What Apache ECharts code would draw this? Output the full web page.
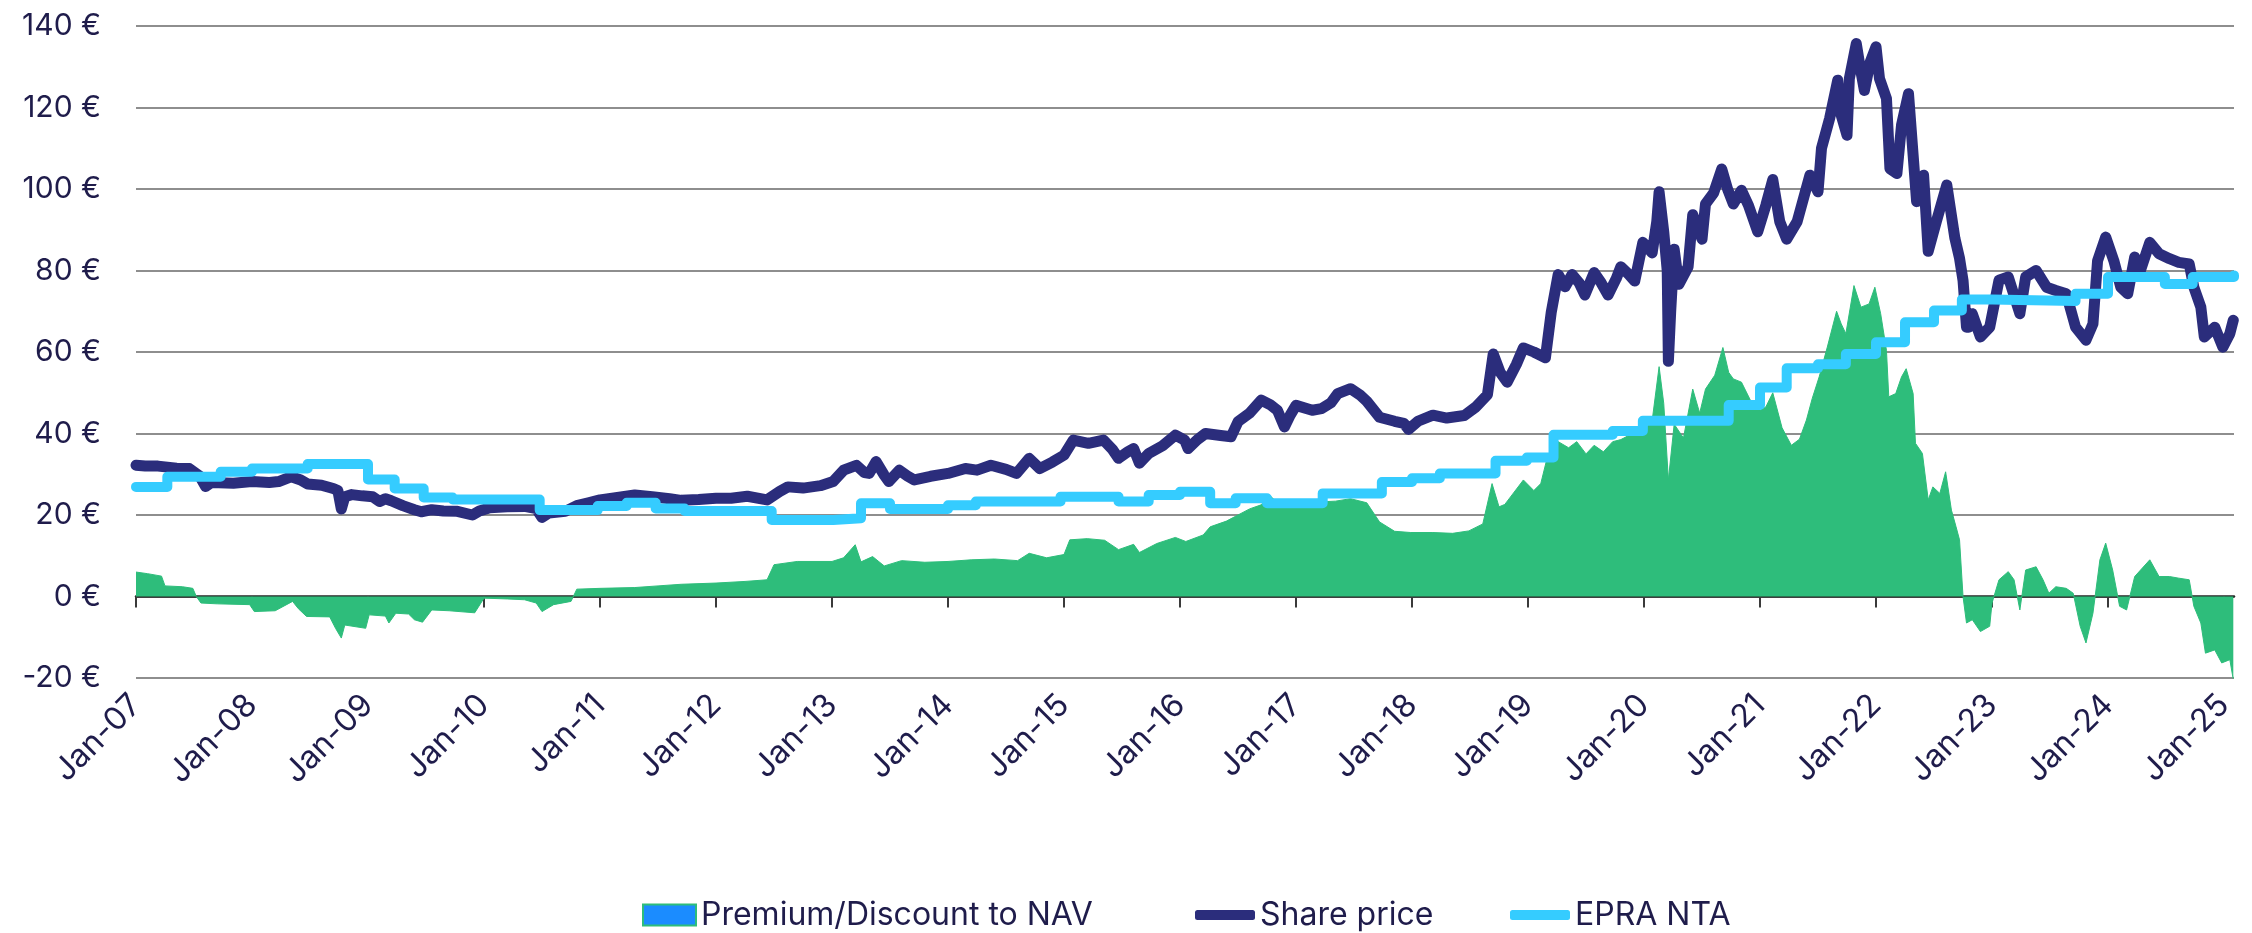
<!DOCTYPE html>
<html>
<head>
<meta charset="utf-8">
<title>Share price, EPRA NTA and premium/discount</title>
<script src="https://cdn.jsdelivr.net/npm/echarts@6/dist/echarts.min.js"></script>
<style>
  html, body { margin: 0; padding: 0; background: #ffffff; }
  #chart { width: 2252px; height: 933px; }
</style>
</head>
<body>
<div id="chart"></div>
<script>
// x positions are decimal years (2007.5 = mid-2007)
const yearTicks = [2007, 2008, 2009, 2010, 2011, 2012, 2013, 2014, 2015, 2016,
                   2017, 2018, 2019, 2020, 2021, 2022, 2023, 2024, 2025];
const yearLabels = ['Jan-07', 'Jan-08', 'Jan-09', 'Jan-10', 'Jan-11', 'Jan-12', 'Jan-13',
                    'Jan-14', 'Jan-15', 'Jan-16', 'Jan-17', 'Jan-18', 'Jan-19', 'Jan-20',
                    'Jan-21', 'Jan-22', 'Jan-23', 'Jan-24', 'Jan-25'];

// Share price (EUR)
const sharePrice = [
  [2007.00, 32.2], [2007.08, 32.0], [2007.19, 32.0], [2007.35, 31.5], [2007.46, 31.4],
  [2007.55, 29.5], [2007.60, 27.0], [2007.65, 28.0], [2007.84, 27.8], [2008.00, 28.2],
  [2008.15, 28.0], [2008.23, 28.2], [2008.34, 29.4], [2008.42, 28.6], [2008.48, 27.6],
  [2008.60, 27.3], [2008.70, 26.5], [2008.74, 26.0], [2008.77, 21.5], [2008.80, 24.5],
  [2008.86, 25.0], [2008.95, 24.7], [2009.04, 24.5], [2009.10, 23.3], [2009.15, 24.0],
  [2009.20, 23.5], [2009.30, 22.3], [2009.40, 21.3], [2009.46, 20.8], [2009.55, 21.3],
  [2009.65, 21.0], [2009.77, 20.9], [2009.90, 20.0], [2009.96, 21.0], [2010.05, 21.8],
  [2010.20, 22.0], [2010.35, 22.1], [2010.45, 21.6], [2010.50, 19.4], [2010.56, 20.5],
  [2010.70, 20.9], [2010.80, 22.3], [2010.90, 23.0], [2011.00, 23.7], [2011.15, 24.3],
  [2011.30, 24.9], [2011.45, 24.5], [2011.60, 24.0], [2011.70, 23.6], [2011.85, 23.8],
  [2012.00, 24.1], [2012.13, 24.1], [2012.27, 24.6], [2012.44, 23.7], [2012.55, 25.8],
  [2012.62, 26.9], [2012.75, 26.6], [2012.90, 27.2], [2013.01, 28.2], [2013.10, 31.0],
  [2013.21, 32.2], [2013.28, 30.4], [2013.32, 30.2], [2013.38, 33.1], [2013.45, 29.8],
  [2013.49, 28.2], [2013.58, 31.0], [2013.65, 29.6], [2013.71, 28.6], [2013.85, 29.5],
  [2014.00, 30.2], [2014.15, 31.4], [2014.25, 31.0], [2014.37, 32.2], [2014.50, 31.2],
  [2014.59, 30.2], [2014.70, 33.9], [2014.79, 31.4], [2014.90, 33.0], [2015.00, 34.7],
  [2015.08, 38.4], [2015.21, 37.6], [2015.34, 38.4], [2015.42, 36.0], [2015.47, 33.9],
  [2015.55, 35.5], [2015.60, 36.3], [2015.65, 32.7], [2015.73, 35.1], [2015.85, 37.0],
  [2015.96, 39.6], [2016.04, 38.4], [2016.07, 36.3], [2016.15, 38.5], [2016.22, 40.0],
  [2016.35, 39.5], [2016.44, 39.2], [2016.50, 42.9], [2016.60, 45.0], [2016.70, 48.2],
  [2016.78, 47.0], [2016.84, 45.7], [2016.90, 41.6], [2016.95, 44.5], [2017.00, 46.9],
  [2017.14, 45.7], [2017.22, 46.1], [2017.30, 47.5], [2017.36, 49.8], [2017.47, 51.0],
  [2017.55, 49.5], [2017.61, 47.9], [2017.72, 44.0], [2017.85, 43.0], [2017.93, 42.5],
  [2017.97, 41.0], [2018.05, 43.0], [2018.18, 44.5], [2018.30, 43.8], [2018.45, 44.4],
  [2018.55, 46.5], [2018.65, 49.5], [2018.70, 59.5], [2018.76, 55.0], [2018.82, 52.6],
  [2018.90, 57.0], [2018.96, 61.0], [2019.05, 60.0], [2019.15, 58.6], [2019.20, 69.7],
  [2019.26, 79.0], [2019.32, 76.0], [2019.38, 79.0], [2019.44, 77.0], [2019.49, 74.0],
  [2019.57, 79.5], [2019.63, 77.0], [2019.69, 74.0], [2019.76, 78.0], [2019.80, 80.9],
  [2019.87, 79.0], [2019.92, 77.4], [2019.99, 86.9], [2020.07, 84.3], [2020.11, 92.0],
  [2020.13, 99.3], [2020.17, 89.5], [2020.20, 80.0], [2020.21, 57.7], [2020.23, 70.0],
  [2020.26, 85.2], [2020.30, 76.6], [2020.38, 80.9], [2020.42, 93.7], [2020.50, 87.7],
  [2020.53, 96.3], [2020.60, 99.0], [2020.67, 104.9], [2020.72, 100.0], [2020.77, 96.3],
  [2020.84, 99.7], [2020.90, 96.0], [2020.98, 89.5], [2021.05, 96.0], [2021.11, 102.3],
  [2021.17, 92.0], [2021.23, 87.7], [2021.32, 92.0], [2021.43, 103.4], [2021.50, 99.3],
  [2021.53, 110.0], [2021.60, 117.3], [2021.67, 126.7], [2021.70, 118.1], [2021.75, 113.2],
  [2021.77, 127.1], [2021.83, 135.7], [2021.86, 130.4], [2021.90, 124.2], [2021.95, 131.2],
  [2022.00, 134.9], [2022.03, 127.1], [2022.09, 122.2], [2022.12, 105.0], [2022.18, 103.8],
  [2022.22, 115.7], [2022.28, 123.4], [2022.35, 96.9], [2022.41, 103.4], [2022.45, 84.7],
  [2022.52, 92.0], [2022.61, 101.0], [2022.68, 87.9], [2022.72, 83.0], [2022.75, 77.6],
  [2022.78, 66.1], [2022.80, 66.1], [2022.83, 69.4], [2022.90, 63.7], [2022.98, 66.1],
  [2023.06, 77.6], [2023.14, 78.4], [2023.24, 69.4], [2023.29, 78.4], [2023.38, 80.0],
  [2023.47, 75.9], [2023.55, 75.1], [2023.64, 74.3], [2023.72, 66.1], [2023.81, 62.9],
  [2023.87, 66.9], [2023.91, 82.4], [2023.98, 88.2], [2024.05, 82.4], [2024.11, 75.9],
  [2024.17, 74.3], [2024.23, 83.3], [2024.27, 79.2], [2024.36, 86.9], [2024.44, 84.1],
  [2024.53, 82.9], [2024.61, 82.0], [2024.70, 81.6], [2024.74, 75.9], [2024.80, 71.0],
  [2024.83, 63.7], [2024.92, 66.1], [2024.99, 61.2], [2025.05, 64.5], [2025.08, 67.8]
];

// EPRA NTA per share (EUR): each entry holds until the next one
const epraNta = [
  [2007.00, 26.9], [2007.27, 29.4], [2007.73, 30.6], [2008.00, 31.4], [2008.48, 32.5],
  [2009.00, 28.7], [2009.23, 26.5], [2009.48, 24.3], [2009.73, 23.8], [2010.48, 21.2],
  [2010.98, 22.2], [2011.23, 23.0], [2011.48, 21.6], [2011.73, 21.0], [2012.48, 18.8],
  [2013.01, 19.2], [2013.25, 22.9], [2013.50, 21.5], [2014.00, 22.4], [2014.24, 23.3],
  [2014.97, 24.5], [2015.47, 23.3], [2015.73, 24.9], [2016.00, 25.7], [2016.26, 22.9],
  [2016.48, 24.1], [2016.75, 22.9], [2017.23, 25.3], [2017.74, 28.1], [2018.00, 29.0],
  [2018.24, 30.2], [2018.72, 33.3], [2018.99, 34.1], [2019.22, 39.7], [2019.73, 40.6],
  [2019.99, 43.1], [2020.73, 47.0], [2021.00, 51.3], [2021.23, 56.0], [2021.50, 57.0],
  [2021.74, 59.5], [2022.00, 62.4], [2022.25, 67.3], [2022.50, 70.2], [2022.74, 72.9],
  [2023.00, 72.5], [2023.72, 74.3], [2024.00, 78.4], [2024.49, 76.7], [2024.73, 78.4],
  [2025.086, 78.8]
];

// Premium (+) / discount (-) of the share price to NAV (EUR)
const premium = [
  [2007.00, 6.0], [2007.10, 5.6], [2007.22, 5.0], [2007.25, 2.6], [2007.40, 2.4],
  [2007.49, 2.0], [2007.52, 0.0], [2007.56, -1.6], [2007.70, -1.8], [2007.98, -2.0],
  [2008.02, -3.7], [2008.20, -3.5], [2008.35, -1.2], [2008.40, -3.0], [2008.47, -4.9],
  [2008.67, -5.0], [2008.72, -7.8], [2008.77, -10.2], [2008.80, -7.0], [2008.98, -7.8],
  [2009.01, -4.5], [2009.15, -4.8], [2009.18, -6.5], [2009.24, -4.1], [2009.35, -4.3],
  [2009.40, -5.7], [2009.47, -6.3], [2009.55, -3.3], [2009.70, -3.5], [2009.92, -4.0],
  [2010.00, -0.4], [2010.20, -0.6], [2010.35, -0.8], [2010.45, -1.6], [2010.50, -3.7],
  [2010.60, -2.0], [2010.75, -1.2], [2010.80, 1.8], [2011.00, 2.0], [2011.30, 2.2],
  [2011.50, 2.6], [2011.70, 3.0], [2012.00, 3.3], [2012.25, 3.7], [2012.44, 4.1],
  [2012.50, 7.8], [2012.70, 8.6], [2013.00, 8.6], [2013.10, 9.5], [2013.20, 12.7],
  [2013.25, 8.5], [2013.35, 9.8], [2013.45, 7.5], [2013.60, 8.8], [2013.80, 8.4],
  [2014.00, 8.6], [2014.20, 9.0], [2014.40, 9.2], [2014.60, 8.8], [2014.70, 10.6],
  [2014.85, 9.5], [2015.00, 10.3], [2015.05, 13.9], [2015.20, 14.2], [2015.35, 13.8],
  [2015.47, 11.5], [2015.60, 12.8], [2015.65, 10.8], [2015.80, 13.0], [2015.96, 14.5],
  [2016.05, 13.5], [2016.20, 15.1], [2016.26, 17.1], [2016.40, 18.5], [2016.50, 20.0],
  [2016.60, 21.5], [2016.70, 22.5], [2016.77, 24.9], [2016.84, 23.0], [2016.95, 22.0],
  [2017.03, 22.6], [2017.20, 23.2], [2017.34, 23.4], [2017.47, 24.0], [2017.61, 23.0],
  [2017.72, 18.3], [2017.85, 16.0], [2017.99, 15.7], [2018.18, 15.7], [2018.35, 15.5],
  [2018.49, 16.1], [2018.61, 17.8], [2018.69, 27.7], [2018.75, 22.0], [2018.80, 22.6],
  [2018.96, 28.6], [2019.05, 26.0], [2019.11, 27.7], [2019.17, 34.6], [2019.26, 38.0],
  [2019.35, 36.5], [2019.42, 38.0], [2019.50, 35.0], [2019.57, 37.1], [2019.65, 35.5],
  [2019.73, 38.0], [2019.80, 38.5], [2019.88, 39.7], [2019.99, 40.6], [2020.07, 43.1],
  [2020.13, 56.4], [2020.17, 47.4], [2020.21, 28.6], [2020.26, 42.3], [2020.34, 38.9],
  [2020.42, 50.9], [2020.48, 45.0], [2020.53, 50.9], [2020.61, 54.3], [2020.68, 61.1],
  [2020.73, 55.0], [2020.77, 53.4], [2020.84, 52.6], [2020.92, 48.0], [2021.00, 45.7],
  [2021.05, 46.5], [2021.11, 50.0], [2021.19, 41.4], [2021.27, 37.1], [2021.34, 38.6],
  [2021.40, 43.3], [2021.45, 48.6], [2021.51, 53.9], [2021.58, 61.2], [2021.66, 70.0],
  [2021.70, 66.9], [2021.74, 64.5], [2021.81, 76.3], [2021.87, 71.0], [2021.94, 71.8],
  [2021.99, 75.9], [2022.04, 69.4], [2022.09, 60.4], [2022.11, 49.0], [2022.17, 49.8],
  [2022.22, 53.9], [2022.26, 55.9], [2022.32, 49.8], [2022.34, 37.6], [2022.40, 35.1],
  [2022.45, 23.7], [2022.49, 26.9], [2022.55, 25.3], [2022.60, 30.6], [2022.65, 21.2],
  [2022.69, 17.1], [2022.72, 13.9], [2022.75, 0.0], [2022.78, -6.5], [2022.83, -5.7],
  [2022.90, -8.6], [2022.98, -7.3], [2023.00, -1.6], [2023.06, 4.1], [2023.14, 6.1],
  [2023.19, 4.1], [2023.24, -3.3], [2023.29, 6.5], [2023.38, 7.3], [2023.44, 4.1],
  [2023.49, 0.8], [2023.55, 2.4], [2023.64, 2.0], [2023.70, 0.8], [2023.76, -7.3],
  [2023.81, -11.4], [2023.87, -4.1], [2023.93, 9.0], [2023.98, 13.1], [2024.04, 6.5],
  [2024.10, -2.4], [2024.16, -3.3], [2024.23, 4.9], [2024.36, 9.0], [2024.44, 4.9],
  [2024.53, 4.9], [2024.61, 4.5], [2024.70, 4.1], [2024.74, -2.4], [2024.80, -6.5],
  [2024.84, -13.9], [2024.92, -13.1], [2024.98, -16.3], [2025.05, -15.5], [2025.08, -20.4]
];

const TEXT = '#1f1c4b';
const FONT = 'Inter';

const chart = echarts.init(document.getElementById('chart'), null, { renderer: 'canvas' });

const legendText = { color: TEXT, fontFamily: FONT, fontSize: 32 };

chart.setOption({
  animation: false,
  backgroundColor: '#ffffff',
  grid: { left: 136, right: 18, top: 26, bottom: 255, containLabel: false },
  legend: [
    {
      data: ['Premium/Discount to NAV'], left: 637, top: 894,
      icon: 'rect', itemWidth: 53, itemHeight: 21, itemGap: 0,
      itemStyle: { color: '#1b8cff', borderColor: '#2ebd7b', borderWidth: 2 },
      textStyle: legendText, selectedMode: false
    },
    {
      data: ['Share price'], left: 1190, top: 894,
      icon: 'roundRect', itemWidth: 60, itemHeight: 10,
      textStyle: legendText, selectedMode: false
    },
    {
      data: ['EPRA NTA'], left: 1505, top: 894,
      icon: 'roundRect', itemWidth: 60, itemHeight: 10,
      textStyle: legendText, selectedMode: false
    }
  ],
  xAxis: [
    {
      // zero line with the yearly ticks
      type: 'value', min: 2007, max: 2025.086,
      axisLine: { onZero: true, lineStyle: { color: '#262626', width: 2.5 } },
      axisTick: { show: true, length: 11, lineStyle: { color: '#3a3a3a', width: 2 }, customValues: yearTicks },
      axisLabel: { show: false },
      splitLine: { show: false }
    },
    {
      // year labels along the bottom
      type: 'value', min: 2007, max: 2025.086, position: 'bottom',
      axisLine: { show: false, onZero: false },
      axisTick: { show: false },
      splitLine: { show: false },
      axisLabel: {
        show: true, rotate: 45, margin: 22,
        color: TEXT, fontFamily: FONT, fontSize: 32,
        customValues: yearTicks,
        formatter: v => {
          const i = yearTicks.indexOf(Math.round(v));
          return i >= 0 ? yearLabels[i] : '';
        }
      }
    }
  ],
  yAxis: {
    type: 'value', min: -20, max: 140, interval: 20,
    axisLine: { show: false }, axisTick: { show: false },
    splitLine: { show: true, lineStyle: { color: '#8e8e8e', width: 2 } },
    axisLabel: {
      color: TEXT, fontFamily: FONT, fontSize: 30, margin: 35,
      formatter: v => v + ' €'
    }
  },
  series: [
    {
      name: 'Premium/Discount to NAV', type: 'line', xAxisIndex: 0,
      data: premium, showSymbol: false, symbol: 'none',
      lineStyle: { width: 1, color: '#2ebd7b' },
      itemStyle: { color: '#2ebd7b' },
      areaStyle: { color: '#2ebd7b', opacity: 1, origin: 0 },
      z: 1
    },
    {
      name: 'Share price', type: 'line', xAxisIndex: 0,
      data: sharePrice, showSymbol: false, symbol: 'none',
      lineStyle: { width: 11, color: '#2b2d7c', cap: 'round', join: 'round' },
      itemStyle: { color: '#2b2d7c' },
      z: 3
    },
    {
      name: 'EPRA NTA', type: 'line', xAxisIndex: 0, step: 'end',
      data: epraNta, showSymbol: false, symbol: 'none',
      lineStyle: { width: 10, color: '#35ccff', cap: 'round', join: 'round' },
      itemStyle: { color: '#35ccff' },
      z: 4
    }
  ]
});
</script>
</body>
</html>
